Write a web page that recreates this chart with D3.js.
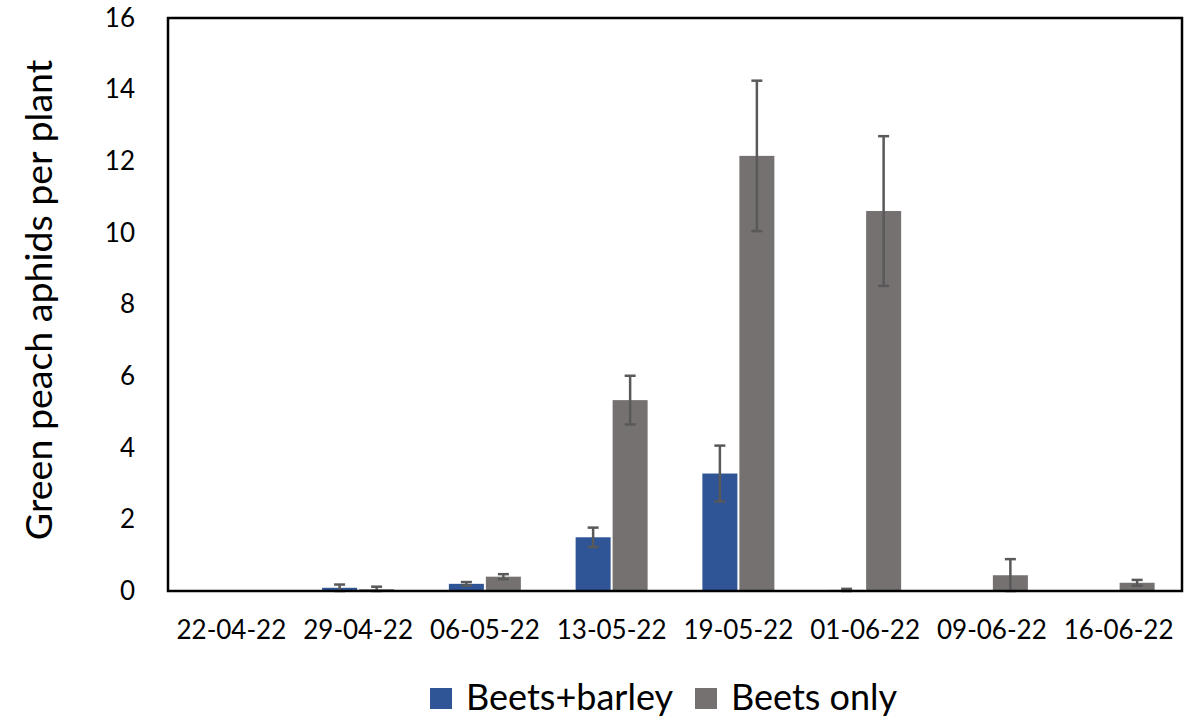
<!DOCTYPE html>
<html>
<head>
<meta charset="utf-8">
<script src="https://cdn.jsdelivr.net/npm/d3@7"></script>
<style>
  html, body { margin: 0; padding: 0; background: #fff; }
  svg { display: block; font-family: Lato, "Open Sans", sans-serif; }
</style>
</head>
<body>
<svg id="chart" width="1193" height="718"></svg>
<script>
// Sampling dates
const dates = ["22-04-22", "29-04-22", "06-05-22", "13-05-22", "19-05-22", "01-06-22", "09-06-22", "16-06-22"];
const seriesNames = ["Beets+barley", "Beets only"];
// Mean aphids per plant
const beetsBarley = [0, 0.09, 0.2, 1.5, 3.28, 0.03, 0, 0];
const beetsOnly = [0, 0.05, 0.4, 5.33, 12.15, 10.61, 0.44, 0.23];
// Standard errors
const beetsBarleyErr = [0, 0.09, 0.05, 0.27, 0.78, 0.03, 0, 0];
const beetsOnlyErr = [0, 0.07, 0.07, 0.68, 2.1, 2.09, 0.45, 0.08];
const yTicks = [0, 2, 4, 6, 8, 10, 12, 14, 16];

const colors = ["#2F5597", "#767171"];
const svg = d3.select("#chart");
const m = { left: 168, top: 18, right: 1182, bottom: 591 };

const x = d3.scaleBand().domain(dates).range([m.left, m.right]).paddingInner(0).paddingOuter(0);
const y = d3.scaleLinear().domain([0, 16]).range([m.bottom, m.top]);
const barW = 35, gap = 2;

const rows = dates.map((d, i) => ({
  date: d,
  vals: [
    { s: 0, v: beetsBarley[i], e: beetsBarleyErr[i] },
    { s: 1, v: beetsOnly[i], e: beetsOnlyErr[i] }
  ]
}));

const offset = s => s === 0 ? -(barW + gap / 2) : gap / 2;

const g = svg.append("g");
const groups = g.selectAll("g.date").data(rows).join("g")
  .attr("transform", d => `translate(${x(d.date) + x.bandwidth() / 2},0)`);

groups.selectAll("rect").data(d => d.vals.filter(v => v.v > 0)).join("rect")
  .attr("x", d => offset(d.s))
  .attr("width", barW)
  .attr("y", d => y(d.v))
  .attr("height", d => y(0) - y(d.v))
  .attr("fill", d => colors[d.s]);

// Error bars
const eb = groups.selectAll("g.err").data(d => d.vals.filter(v => v.e > 0)).join("g")
  .attr("class", "err")
  .attr("stroke", "#595959")
  .attr("stroke-width", 2.5);
const cx = d => offset(d.s) + barW / 2;
eb.append("line")
  .attr("x1", cx).attr("x2", cx)
  .attr("y1", d => y(d.v + d.e)).attr("y2", d => y(Math.max(0, d.v - d.e)));
[1, -1].forEach(sign => {
  eb.append("line")
    .attr("x1", d => cx(d) - 5.5).attr("x2", d => cx(d) + 5.5)
    .attr("y1", d => y(Math.max(0, d.v + sign * d.e)))
    .attr("y2", d => y(Math.max(0, d.v + sign * d.e)));
});

// Plot frame
svg.append("rect")
  .attr("x", m.left).attr("y", m.top)
  .attr("width", m.right - m.left).attr("height", m.bottom - m.top)
  .attr("fill", "none").attr("stroke", "#000").attr("stroke-width", 2.5);

// Y axis labels
const yAxis = svg.append("g")
  .attr("transform", `translate(${m.left},0)`)
  .call(d3.axisLeft(y).tickValues(yTicks).tickSize(0).tickPadding(33).tickFormat(d3.format("d")));
yAxis.select(".domain").remove();
yAxis.selectAll("text").attr("font-size", 26).attr("fill", "#000")
  .attr("font-family", "Lato, sans-serif");

// X axis labels
const xAxis = svg.append("g")
  .attr("transform", `translate(0,${m.bottom})`)
  .call(d3.axisBottom(x).tickSize(0).tickPadding(29.5));
xAxis.select(".domain").remove();
xAxis.selectAll("text").attr("font-size", 26).attr("fill", "#000")
  .attr("font-family", "Lato, sans-serif");

// Y title
svg.append("text")
  .attr("transform", `translate(52,300) rotate(-90)`)
  .attr("text-anchor", "middle")
  .attr("font-size", 37.5)
  .attr("fill", "#000")
  .text("Green peach aphids per plant");

// Legend
const legX = [430, 695];
seriesNames.forEach((name, i) => {
  svg.append("rect").attr("x", legX[i]).attr("y", 688).attr("width", 22).attr("height", 21).attr("fill", colors[i]);
  svg.append("text").attr("x", legX[i] + 36).attr("y", 709.5)
    .attr("font-size", 36).attr("fill", "#000").text(name);
});
</script>
</body>
</html>
